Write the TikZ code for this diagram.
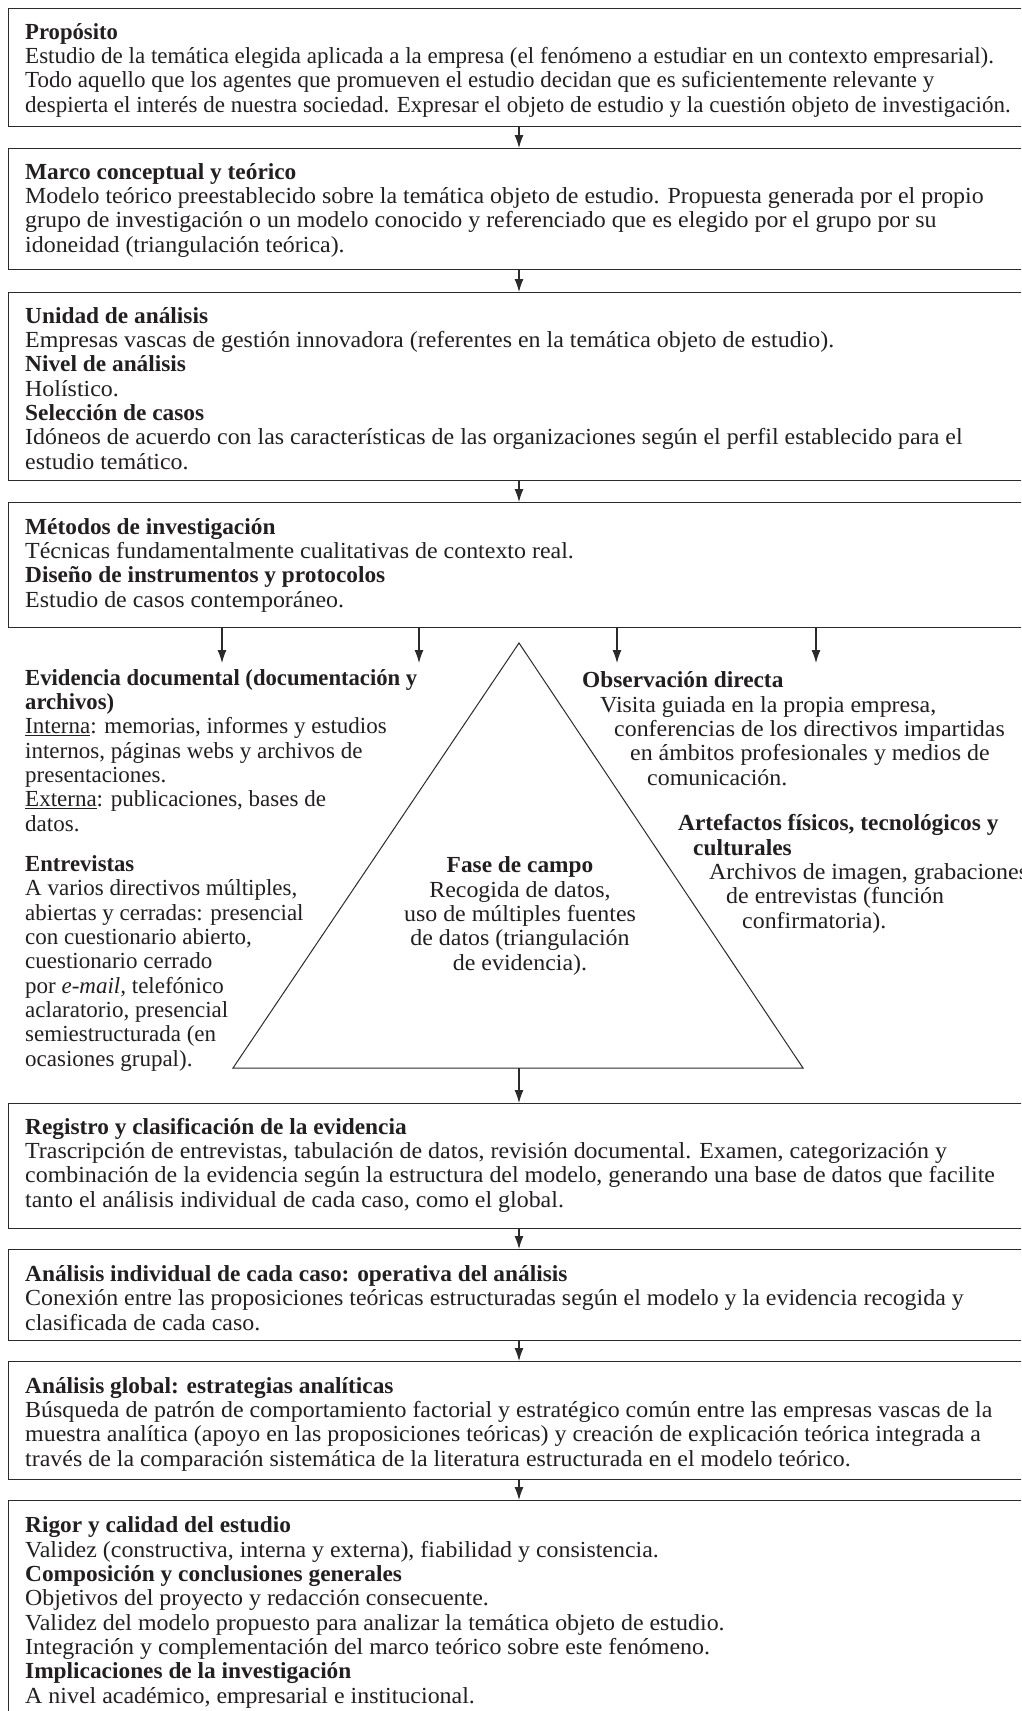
\documentclass[tikz,border=0pt]{standalone}
\usepackage{fontspec}
\setmainfont{Liberation Serif}[FakeStretch=1.04, BoldFeatures={FakeStretch=1.015}]
\newfontfamily\plainrm{Liberation Serif}[BoldFeatures={FakeStretch=0.985}]
\usetikzlibrary{arrows.meta}
\definecolor{ink}{HTML}{231F20}
\definecolor{rulec}{HTML}{2B2B2B}
\begin{document}
\begin{tikzpicture}[x=1pt,y=-1pt,
  box/.style={draw=rulec, line width=1.3pt, anchor=north west, minimum width=1040pt, inner sep=0pt},
  txt/.style={inner sep=0pt, anchor=base west, align=left, text=ink, font=\fontsize{23}{24.3}\selectfont},
  ptxt/.style={txt, font=\plainrm\fontsize{23}{24.3}\selectfont},
  ctxt/.style={inner sep=0pt, anchor=base, align=center, text=ink, font=\fontsize{23}{24.3}\selectfont},
  arr/.style={draw=rulec, line width=1.1pt, -{Latex[length=13pt,width=9pt]}},
  tri/.style={draw=rulec, line width=1pt, line join=miter}]
\clip (0,0) rectangle (1021,1711);
\fill[white] (0,0) rectangle (1021,1711);
% boxes
\node[box, minimum height=118pt] (b1) at (8,8) {};
\node[box, minimum height=121pt] (b2) at (8,148) {};
\node[box, minimum height=188pt] (b3) at (8,292) {};
\node[box, minimum height=125pt] (b4) at (8,502) {};
\node[box, minimum height=125pt] (b5) at (8,1103) {};
\node[box, minimum height=91pt]  (b6) at (8,1249) {};
\node[box, minimum height=118pt] (b7) at (8,1361) {};
\node[box, minimum height=230pt] (b8) at (8,1500) {};
% axis and free ends
\coordinate (ax) at (519,0);
\coordinate (e1) at (222,663);
\coordinate (e2) at (419,663);
\coordinate (e3) at (617,663);
\coordinate (e4) at (816,663);
% triangle
\coordinate (apex) at (519,643);
\coordinate (tl) at (233,1068);
\coordinate (tr) at (803,1068);
\draw[tri] (apex) -- (tl) -- (tr) -- cycle;
% arrows
\draw[arr] (b1.south -| ax) -- (b2.north -| ax);
\draw[arr] (b2.south -| ax) -- (b3.north -| ax);
\draw[arr] (b3.south -| ax) -- (b4.north -| ax);
\draw[arr] (b4.south -| e1) -- (e1);
\draw[arr] (b4.south -| e2) -- (e2);
\draw[arr] (b4.south -| e3) -- (e3);
\draw[arr] (b4.south -| e4) -- (e4);
\draw[arr] (tl -| ax) -- (b5.north -| ax);
\draw[arr] (b5.south -| ax) -- (b6.north -| ax);
\draw[arr] (b6.south -| ax) -- (b7.north -| ax);
\draw[arr] (b7.south -| ax) -- (b8.north -| ax);
% texts (anchored at the baseline of their last line)
\node[ptxt] (t1) at (25,112) {\textbf{Propósito}\\
Estudio de la temática elegida aplicada a la empresa (el fenómeno a estudiar en un contexto empresarial).\\
Todo aquello que los agentes que promueven el estudio decidan que es suficientemente relevante y\\
despierta el interés de nuestra sociedad. Expresar el objeto de estudio y la cuestión objeto de investigación.};
\node[txt] (t2) at (25,252) {\textbf{Marco conceptual y teórico}\\
Modelo teórico preestablecido sobre la temática objeto de estudio. Propuesta generada por el propio\\
grupo de investigación o un modelo conocido y referenciado que es elegido por el grupo por su\\
idoneidad (triangulación teórica).};
\node[txt] (t3) at (25,469) {\textbf{Unidad de análisis}\\
Empresas vascas de gestión innovadora (referentes en la temática objeto de estudio).\\
\textbf{Nivel de análisis}\\
Holístico.\\
\textbf{Selección de casos}\\
Idóneos de acuerdo con las características de las organizaciones según el perfil establecido para el\\
estudio temático.};
\node[txt] (t4) at (25,607) {\textbf{Métodos de investigación}\\
Técnicas fundamentalmente cualitativas de contexto real.\\
\textbf{Diseño de instrumentos y protocolos}\\
Estudio de casos contemporáneo.};
\node[ptxt] (evid) at (25,831) {\textbf{Evidencia documental (documentación y}\\
\textbf{archivos)}\\
\underline{Interna}: memorias, informes y estudios\\
internos, páginas webs y archivos de\\
presentaciones.\\
\underline{Externa}: publicaciones, bases de\\
datos.};
\node[ptxt] (entr) at (25,1066) {\textbf{Entrevistas}\\
A varios directivos múltiples,\\
abiertas y cerradas: presencial\\
con cuestionario abierto,\\
cuestionario cerrado\\
por \textit{e-mail,} telefónico\\
aclaratorio, presencial\\
semiestructurada (en\\
ocasiones grupal).};
\node[ctxt] (fase) at (520,970) {\textbf{Fase de campo}\\
Recogida de datos,\\
uso de múltiples fuentes\\
de datos (triangulación\\
de evidencia).};
\node[txt] (obs) at (582,785) {\textbf{Observación directa}\\
\hspace*{18pt}Visita guiada en la propia empresa,\\
\hspace*{32pt}conferencias de los directivos impartidas\\
\hspace*{48pt}en ámbitos profesionales y medios de\\
\hspace*{65pt}comunicación.};
\node[txt] (arte) at (678,928) {\textbf{Artefactos físicos, tecnológicos y}\\
\hspace*{15pt}\textbf{culturales}\\
\hspace*{31pt}Archivos de imagen, grabaciones\\
\hspace*{48pt}de entrevistas (función\\
\hspace*{64pt}confirmatoria).};
\node[txt] (t5) at (25,1207) {\textbf{Registro y clasificación de la evidencia}\\
Trascripción de entrevistas, tabulación de datos, revisión documental. Examen, categorización y\\
combinación de la evidencia según la estructura del modelo, generando una base de datos que facilite\\
tanto el análisis individual de cada caso, como el global.};
\node[txt] (t6) at (25,1330) {\textbf{Análisis individual de cada caso: operativa del análisis}\\
Conexión entre las proposiciones teóricas estructuradas según el modelo y la evidencia recogida y\\
clasificada de cada caso.};
\node[txt] (t7) at (25,1466) {\textbf{Análisis global: estrategias analíticas}\\
Búsqueda de patrón de comportamiento factorial y estratégico común entre las empresas vascas de la\\
muestra analítica (apoyo en las proposiciones teóricas) y creación de explicación teórica integrada a\\
través de la comparación sistemática de la literatura estructurada en el modelo teórico.};
\node[txt] (t8) at (25,1703) {\textbf{Rigor y calidad del estudio}\\
Validez (constructiva, interna y externa), fiabilidad y consistencia.\\
\textbf{Composición y conclusiones generales}\\
Objetivos del proyecto y redacción consecuente.\\
Validez del modelo propuesto para analizar la temática objeto de estudio.\\
Integración y complementación del marco teórico sobre este fenómeno.\\
\textbf{Implicaciones de la investigación}\\
A nivel académico, empresarial e institucional.};
\end{tikzpicture}
\end{document}
